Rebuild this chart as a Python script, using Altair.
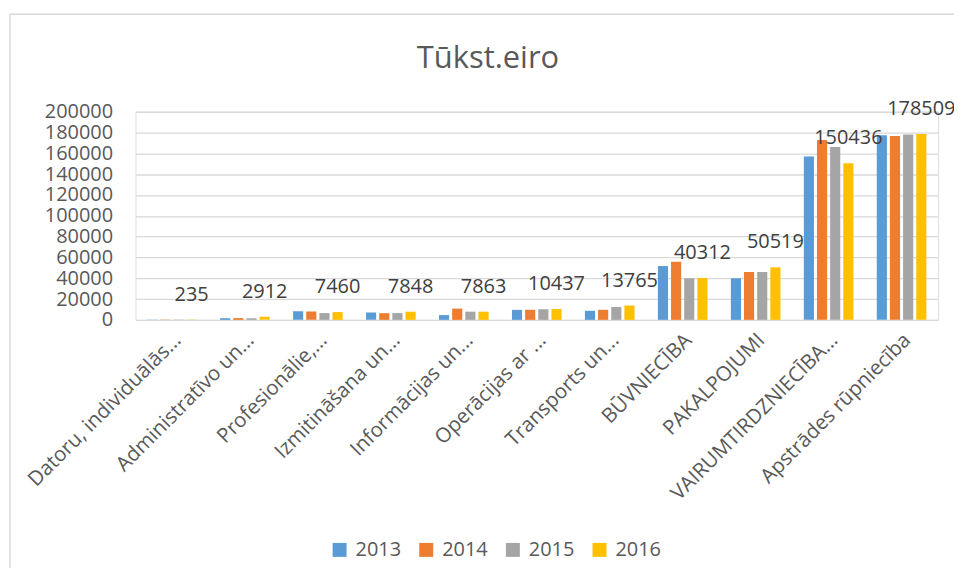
import altair as alt
import pandas as pd

categories = [
    "Datoru, individuālās...",
    "Administratīvo un...",
    "Profesionālie,...",
    "Izmitināšana un...",
    "Informācijas un...",
    "Operācijas ar ...",
    "Transports un...",
    "BŪVNIECĪBA",
    "PAKALPOJUMI",
    "VAIRUMTIRDZNIECĪBA...",
    "Apstrādes rūpniecība",
]
years = ["2013", "2014", "2015", "2016"]
v2013 = [200, 1600, 8200, 7000, 4600, 9600, 8700, 51700, 40000, 157000, 177500]
v2014 = [250, 1700, 8000, 6400, 10800, 9700, 9700, 55800, 46000, 172900, 176800]
v2015 = [230, 1500, 6500, 6500, 7900, 10200, 12400, 40000, 46000, 166200, 178200]
v2016 = [235, 2912, 7460, 7848, 7863, 10437, 13765, 40312, 50519, 150436, 178509]
colors = ["#5b9bd5", "#ed7d31", "#a5a5a5", "#ffc000"]
y_ticks = list(range(0, 200001, 20000))
title_text = "Tūkst.eiro"

rows = []
for yr, vals in zip(years, [v2013, v2014, v2015, v2016]):
    for c, v in zip(categories, vals):
        rows.append({"kategorija": c, "gads": yr, "vertiba": v})
df = pd.DataFrame(rows)
df16 = df[df["gads"] == "2016"]

FONT = "Open Sans"
GRAY = "#595959"

x = alt.X("kategorija:N", sort=categories, title=None,
          scale=alt.Scale(paddingInner=0.32, paddingOuter=0.16),
          axis=alt.Axis(labelAngle=-45, labelAlign="right", labelBaseline="middle",
                        labelFontSize=20.5, labelFont=FONT, labelColor=GRAY,
                        labelPadding=17, labelOffset=6, labelLimit=400,
                        domain=False, ticks=False, grid=False))
xo = alt.XOffset("gads:N", sort=years, scale=alt.Scale(paddingInner=0.23))
y = alt.Y("vertiba:Q", title=None,
          scale=alt.Scale(domain=[0, 200000], nice=False),
          axis=alt.Axis(values=y_ticks, format="d", labelFontSize=20, labelFont=FONT,
                        labelColor=GRAY, labelPadding=23, labelOverlap=False,
                        labelFlush=False, labelBound=False,
                        domain=False, ticks=False,
                        gridColor="#d9d9d9", gridWidth=1.3))

bars = alt.Chart(df).mark_bar().encode(
    x=x, xOffset=xo, y=y,
    color=alt.Color("gads:N", sort=years,
                    scale=alt.Scale(domain=years, range=colors),
                    legend=alt.Legend(title=None, orient="none", direction="horizontal",
                                      legendX=195, legendY=430, symbolType="square",
                                      symbolSize=196, symbolStrokeWidth=0,
                                      labelFontSize=20, labelFont=FONT, labelColor=GRAY,
                                      labelOffset=6, columnPadding=15)),
)

labels = alt.Chart(df16).mark_text(fontSize=20, font=FONT, color="#404040",
                                   baseline="middle", dy=-25).encode(
    x=x, xOffset=xo, y=y, text=alt.Text("vertiba:Q", format="d"),
)

frame = alt.Chart(pd.DataFrame({"f": [0]})).mark_rect(
    fill=None, stroke="#d9d9d9", strokeWidth=1.5).encode(
    x=alt.value(-126), x2=alt.value(840), y=alt.value(-98), y2=alt.value(470))

title = alt.Chart(pd.DataFrame({"t": [title_text]})).mark_text(
    fontSize=31, font=FONT, color=GRAY, align="center", baseline="alphabetic").encode(
    text="t:N", x=alt.value(354), y=alt.value(-44))

chart = alt.layer(frame, bars, labels, title).properties(
    width=806, height=209,
    autosize=alt.AutoSizeParams(type="none"),
    padding={"left": 128, "top": 103, "right": 16, "bottom": 248},
).configure_view(stroke=None).configure_axis(labelOverlap=False).configure(background="white")

chart.save("out.html", embed_options={"renderer": "svg", "actions": False})
